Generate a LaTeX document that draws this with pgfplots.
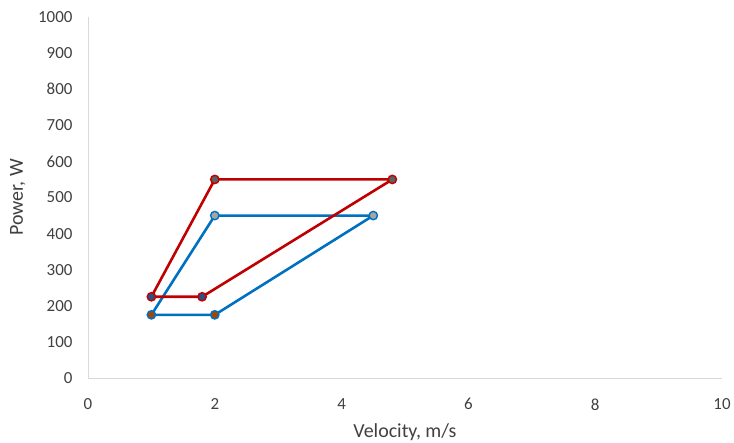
\documentclass[border=0pt]{standalone}
\usepackage{pgfplots}
\pgfplotsset{compat=1.18}
\usepackage{fontspec}
\setmainfont{Carlito}
\definecolor{redline}{HTML}{C00000}
\definecolor{blueline}{HTML}{0070C0}
\definecolor{txt}{HTML}{404040}
\definecolor{axln}{HTML}{D9D9D9}
\definecolor{fillA}{HTML}{2E4F86}
\definecolor{fillB}{HTML}{606060}
\definecolor{fillC}{HTML}{9E480E}
\definecolor{fillD}{HTML}{A5A5A5}
\begin{document}
\begin{tikzpicture}
\begin{axis}[
    scale only axis,
    width=634bp, height=361bp,
    xmin=0, xmax=10, ymin=0, ymax=1000,
    xtick={0,2,...,10}, ytick={0,100,...,1000},
    axis x line=bottom, axis y line=left,
    axis line style={-, axln, line width=0.8pt},
    major tick length=0pt,
    /pgf/number format/assume math mode=true,
    /pgf/number format/set thousands separator={},
    tick label style={font=\fontsize{17}{19}\selectfont, text=txt},
    xticklabel style={yshift=-17bp},
    yticklabel style={xshift=-12bp},
    label style={font=\fontsize{20}{22}\selectfont, text=txt},
    xlabel={Velocity, m/s},
    ylabel={Power, W},
    xlabel style={yshift=-7bp},
    ylabel style={yshift=6bp},
    clip=false,
]
% blue loop
\addplot[blueline, line width=2.6pt, no marks] coordinates {
    (1,175) (2,450) (4.5,450) (2,175) (1,175)
};
\addplot[only marks, mark=*, mark size=4.2pt, mark options={draw=blueline, line width=1.4pt, fill=fillC}] coordinates {
    (1,175) (2,175)
};
\addplot[only marks, mark=*, mark size=4.2pt, mark options={draw=blueline, line width=1.4pt, fill=fillD}] coordinates {
    (2,450) (4.5,450)
};
% red loop
\addplot[redline, line width=2.6pt, no marks] coordinates {
    (1,225) (2,550) (4.8,550) (1.8,225) (1,225)
};
\addplot[only marks, mark=*, mark size=4.2pt, mark options={draw=redline, line width=1.4pt, fill=fillA}] coordinates {
    (1,225) (1.8,225)
};
\addplot[only marks, mark=*, mark size=4.2pt, mark options={draw=redline, line width=1.4pt, fill=fillB}] coordinates {
    (2,550) (4.8,550)
};
\end{axis}
\pgfresetboundingbox
\path (-88bp,-65bp) rectangle (646bp,378bp);
\end{tikzpicture}
\end{document}
